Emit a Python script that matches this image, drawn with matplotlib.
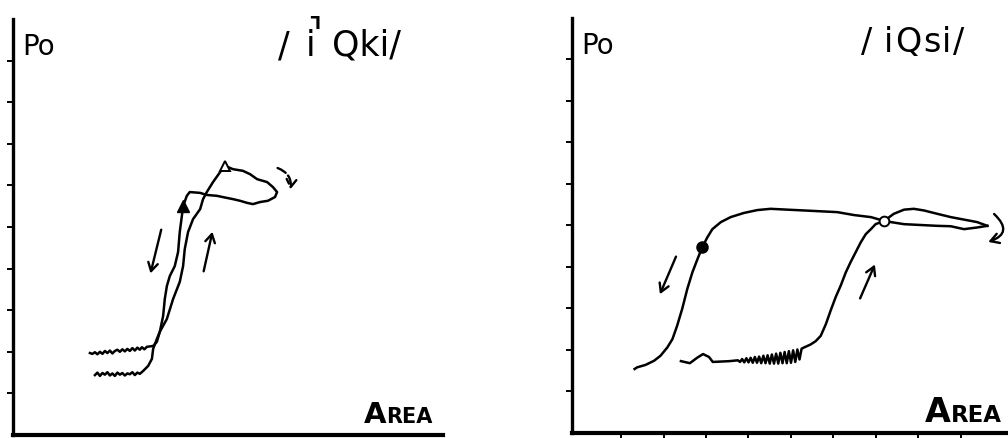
import matplotlib
matplotlib.use("Agg")
import matplotlib.pyplot as plt

# ---------------- data (abstract units: ticks at 1..9) ----------------
# Left panel /i Qki/
L_rise_x = [1.97, 2.03, 2.09, 2.15, 2.21, 2.27, 2.33, 2.39, 2.45, 2.51, 2.57, 2.63, 2.69, 2.75,
            2.81, 2.87, 2.93, 2.99, 3.05, 3.13, 3.25, 3.34, 3.37, 3.46, 3.53, 3.70, 3.85, 4.01,
            4.09, 4.13, 4.21, 4.33, 4.50, 4.57, 4.66, 4.81, 4.98, 5.10]
L_rise_y = [1.44, 1.50, 1.42, 1.49, 1.45, 1.51, 1.43, 1.48, 1.42, 1.50, 1.45, 1.49, 1.43, 1.48,
            1.46, 1.51, 1.44, 1.50, 1.47, 1.54, 1.66, 1.83, 2.07, 2.31, 2.48, 2.79, 3.27, 3.68,
            4.06, 4.47, 4.88, 5.19, 5.43, 5.67, 5.84, 6.08, 6.32, 6.47]
L_loop_x = [5.10, 5.29, 5.53, 5.70, 5.87, 6.11, 6.25, 6.35, 6.30, 6.13, 5.94, 5.77, 5.63, 5.46,
            5.29, 5.14, 4.90, 4.66, 4.50, 4.25, 4.18, 4.09]
L_loop_y = [6.47, 6.39, 6.35, 6.27, 6.15, 6.08, 5.96, 5.84, 5.72, 5.63, 5.60, 5.55, 5.58, 5.63,
            5.67, 5.70, 5.75, 5.77, 5.82, 5.84, 5.75, 5.50]
L_fall_x = [4.09, 4.06, 4.01, 3.97, 3.89, 3.77, 3.70, 3.65, 3.61, 3.53, 3.46, 3.37, 3.22, 3.16,
            3.10, 3.05, 2.99, 2.93, 2.87, 2.81, 2.75, 2.69, 2.63, 2.57, 2.51, 2.45, 2.39, 2.33,
            2.27, 2.21, 2.15, 2.09, 2.03, 1.97, 1.91, 1.85]
L_fall_y = [5.50, 5.26, 4.88, 4.40, 4.06, 3.82, 3.58, 3.27, 2.86, 2.48, 2.24, 2.14, 2.12, 2.06,
            2.11, 2.05, 2.10, 2.03, 2.09, 2.02, 2.07, 2.01, 2.06, 2.00, 2.05, 2.02, 1.96, 2.03,
            1.97, 2.02, 1.95, 2.00, 1.94, 1.99, 1.95, 1.97]
L_open_tri = (5.10, 6.47)
L_filled_tri = (4.09, 5.50)
L_arrow_down = ((3.58, 5.00), (3.29, 3.82))
L_arrow_up = ((4.57, 3.87), (4.81, 4.95))
L_curl = ((6.30, 6.44), (6.66, 5.84))

# Right panel /iQsi/
R_up_x = [2.41, 2.62, 2.79, 2.93, 3.07, 3.16, 3.56, 3.75, 3.80, 3.85, 3.90, 3.95, 4.00, 4.05,
          4.10, 4.15, 4.20, 4.25, 4.30, 4.35, 4.40, 4.45, 4.50, 4.55, 4.60, 4.65, 4.70, 4.75,
          4.80, 4.85, 4.90, 4.95, 5.00, 5.05, 5.10, 5.15, 5.20, 5.25, 5.31, 5.46, 5.58, 5.70,
          5.82, 5.93, 6.05, 6.17, 6.29, 6.40, 6.52, 6.64, 6.76, 6.88, 6.99, 7.19, 7.42, 7.66,
          7.89, 8.13, 8.44, 8.76, 9.07, 9.38, 9.62]
R_up_y = [1.72, 1.67, 1.80, 1.89, 1.82, 1.70, 1.72, 1.74, 1.70, 1.77, 1.69, 1.79, 1.69, 1.80,
          1.68, 1.82, 1.68, 1.83, 1.67, 1.85, 1.67, 1.86, 1.66, 1.88, 1.66, 1.90, 1.66, 1.92,
          1.67, 1.94, 1.67, 1.96, 1.68, 1.98, 1.70, 2.00, 1.76, 2.02, 2.05, 2.12, 2.20, 2.33,
          2.61, 2.93, 3.26, 3.54, 3.86, 4.10, 4.34, 4.58, 4.78, 4.90, 5.02, 5.10, 5.27, 5.37,
          5.39, 5.35, 5.27, 5.19, 5.13, 5.07, 4.98]
R_back_x = [9.62, 9.38, 9.07, 8.76, 8.44, 8.05, 7.66, 7.35, 7.19, 6.88, 6.48, 6.09, 5.70, 5.31,
            4.91, 4.52, 4.21, 3.89, 3.58, 3.35, 3.15, 3.03, 2.91, 2.80, 2.68, 2.56, 2.44, 2.32,
            2.21, 2.09, 1.93, 1.78, 1.58, 1.38, 1.32]
R_back_y = [4.98, 4.94, 4.90, 4.97, 4.98, 5.00, 5.02, 5.07, 5.10, 5.19, 5.24, 5.31, 5.33, 5.35,
            5.37, 5.39, 5.36, 5.29, 5.19, 5.07, 4.90, 4.70, 4.46, 4.18, 3.86, 3.46, 2.98, 2.57,
            2.25, 2.05, 1.85, 1.73, 1.63, 1.57, 1.53]
R_open_circ = (7.19, 5.10)
R_filled_circ = (2.91, 4.46)
R_arrow_down = ((2.32, 4.30), (1.89, 3.27))
R_arrow_up = ((6.60, 3.17), (7.00, 4.11))
R_curl = ((9.73, 5.31), (9.58, 4.57))

ticks = [1, 2, 3, 4, 5, 6, 7, 8, 9]

# ---------------- figure ----------------
W, H = 1008, 439
fig = plt.figure(figsize=(W / 100, H / 100), dpi=100)
fig.patch.set_facecolor("white")

axL = fig.add_axes([13 / W, 3 / H, 430 / W, 416 / H])
axR = fig.add_axes([572 / W, 5.5 / H, 436 / W, 415 / H])
axL.set_xlim(0, 10.34)
axL.set_ylim(0, 10.0)
axR.set_xlim(-0.153, 10.106)
axR.set_ylim(0, 10.0)

for ax in (axL, axR):
    ax.set_facecolor("none")
    for s in ("top", "right"):
        ax.spines[s].set_visible(False)
    ax.spines["left"].set_linewidth(2.4)
    ax.spines["bottom"].set_linewidth(3.0)
    ax.set_yticks(ticks)
    ax.set_yticklabels([])
    ax.tick_params(axis="y", direction="out", length=4.5, width=1.4, color="black")

axL.set_xticks([])
axR.set_xticks(ticks)
axR.set_xticklabels([])
axR.tick_params(axis="x", direction="out", length=4.0, width=1.4, color="black")

lw = 1.8
k = "black"
axL.plot(L_rise_x, L_rise_y, color=k, lw=lw, solid_joinstyle="round")
axL.plot(L_loop_x, L_loop_y, color=k, lw=lw, solid_joinstyle="round")
axL.plot(L_fall_x, L_fall_y, color=k, lw=lw, solid_joinstyle="round")
axL.plot(*L_open_tri, marker="^", ms=7, mfc="white", mec=k, mew=1.4)
axL.plot(*L_filled_tri, marker="^", ms=8, color=k)

axR.plot(R_up_x, R_up_y, color=k, lw=lw, solid_joinstyle="round")
axR.plot(R_back_x, R_back_y, color=k, lw=lw, solid_joinstyle="round")
axR.plot(*R_open_circ, marker="o", ms=7, mfc="white", mec=k, mew=1.4)
axR.plot(*R_filled_circ, marker="o", ms=8, color=k)

arrow_kw = dict(arrowstyle="->,head_length=0.6,head_width=0.35", color=k, lw=1.7)
for ax, (a, b) in ((axL, L_arrow_down), (axL, L_arrow_up), (axR, R_arrow_down), (axR, R_arrow_up)):
    ax.annotate("", xy=b, xytext=a, arrowprops=arrow_kw)

axL.annotate("", xy=L_curl[1], xytext=L_curl[0],
             arrowprops=dict(arrowstyle="->,head_length=0.55,head_width=0.35", color=k, lw=1.7,
                             linestyle=(0, (4, 1.5)), connectionstyle="arc3,rad=-0.45"))
axR.annotate("", xy=R_curl[1], xytext=R_curl[0], annotation_clip=False,
             arrowprops=dict(arrowstyle="->,head_length=0.6,head_width=0.35", color=k, lw=1.7,
                             connectionstyle="arc3,rad=-0.9"))

# ---------------- text ----------------
def T(px, py, s, **kw):
    fig.text(px / W, 1 - py / H, s, **kw)

font = "DejaVu Sans"
# Po labels
T(22, 55, "Po", fontsize=20, family=font, va="baseline", ha="left")
T(581, 54, "Po", fontsize=20, family=font, va="baseline", ha="left")

# Left title  / i Qki/  (with the small hook mark over the i)
T(278, 56, "/", fontsize=25, family=font, va="baseline", ha="left")
T(306, 56, "i", fontsize=25, family=font, va="baseline", ha="left")
T(318, 10, "L", fontsize=12, family=font, weight="bold", rotation=180, va="top", ha="right")
T(332, 56, "Qki/", fontsize=25, family=font, va="baseline", ha="left")

# Right title  / iQsi/
T(861, 52, "/", fontsize=24, family=font, va="baseline", ha="left")
T(884, 52, "i", fontsize=24, family=font, va="baseline", ha="left")
T(895, 52, "Q", fontsize=24, family=font, va="baseline", ha="left")
T(923, 52, "s", fontsize=24, family=font, va="baseline", ha="left")
T(942, 52, "i", fontsize=24, family=font, va="baseline", ha="left")
T(953, 52, "/", fontsize=24, family=font, va="baseline", ha="left")

# AREA small caps
T(386, 423, "A", fontsize=21, family=font, weight="bold", va="baseline", ha="right")
T(386, 423, "REA", fontsize=15, family=font, weight="bold", va="baseline", ha="left")
T(951, 422, "A", fontsize=24, family=font, weight="bold", va="baseline", ha="right")
T(951, 422, "REA", fontsize=16.5, family=font, weight="bold", va="baseline", ha="left")

fig.savefig("out.png", dpi=100)
